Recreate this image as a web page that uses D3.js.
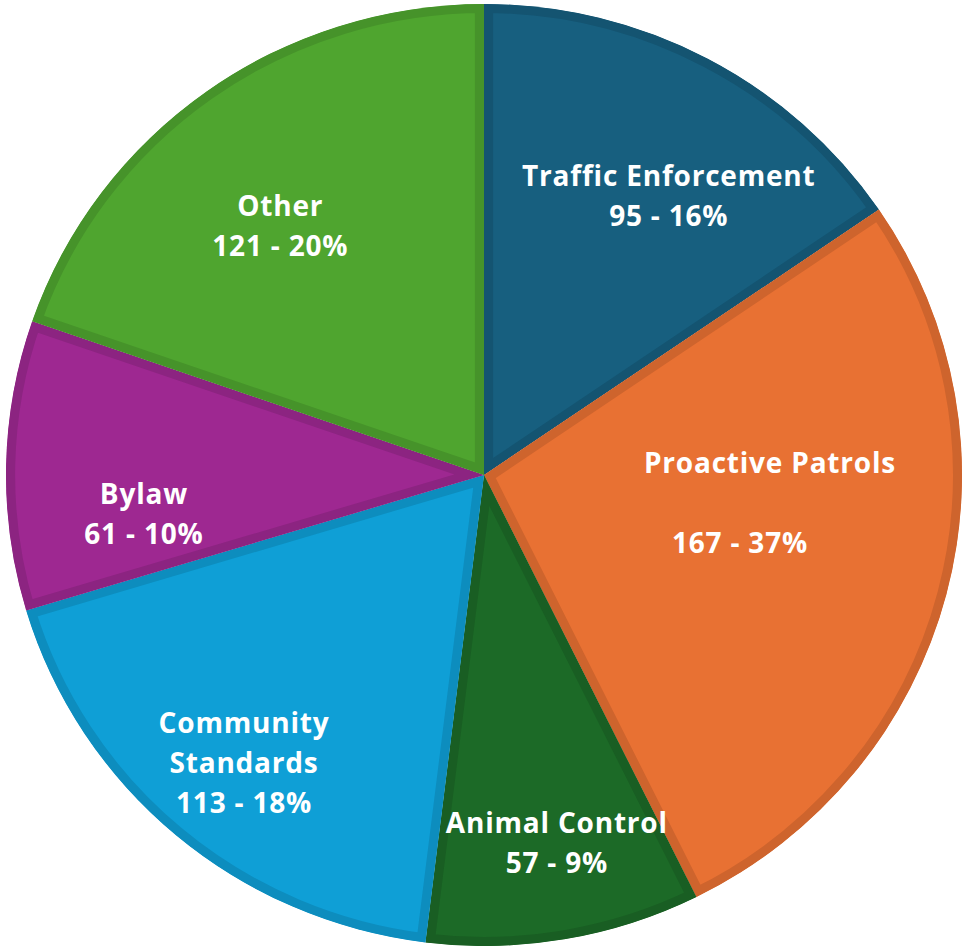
<!DOCTYPE html>
<html>
<head>
<meta charset="utf-8">
<script src="https://cdn.jsdelivr.net/npm/d3@7"></script>
<style>
  html, body { margin: 0; padding: 0; background: #ffffff; }
  svg { display: block; }
  .slice-label { font-family: "Open Sans", "Liberation Sans", Arial, sans-serif; font-weight: 700; fill: #ffffff; letter-spacing: 0.8px; }
</style>
</head>
<body>
<svg id="chart" width="963" height="948"></svg>
<script>
// Categories and counts, clockwise from twelve o'clock
const categories = ["Traffic Enforcement", "Proactive Patrols", "Animal Control", "Community Standards", "Bylaw", "Other"];
const counts = [95, 167, 57, 113, 61, 121];
// Percent text as printed on each slice
const percentLabels = ["16%", "37%", "9%", "18%", "10%", "20%"];
// Label text broken into lines ("" leaves a blank line)
const labelLines = [
  ["Traffic Enforcement"],
  ["Proactive Patrols", ""],
  ["Animal Control"],
  ["Community", "Standards"],
  ["Bylaw"],
  ["Other"]
];
const sliceColors = ["#175f7f", "#e87133", "#1c6a27", "#0f9fd6", "#9e2891", "#4fa52f"];

// Layout
const width = 963, height = 948;
const cx = 484, cy = 475;
const ry = 471, rx = 478;          // pie is drawn slightly wider than tall
const borderInset = 9;             // darker band inside each slice edge
const fontSize = 28, lineGap = 40;
// hand-placed label offsets from the arc centroid (px)
const labelNudge = [[24, 21], [-62, -58], [15, 34], [-18, 29], [4, 46], [-4, 27]];
// per-line horizontal shifts inside a label block
const lineShift = [[0, 0], [15, 0, -15], [0, 0], [0, 0, 0], [0, 0], [0, 0]];

const data = categories.map((name, i) => ({
  name, value: counts[i], pct: percentLabels[i], lines: labelLines[i].concat([counts[i] + " - " + percentLabels[i]]),
  color: sliceColors[i], index: i
}));

const svg = d3.select("#chart");
const color = d3.scaleOrdinal().domain(categories).range(sliceColors);

const pie = d3.pie().value(d => d.value).sort(null);
const arcs = pie(data);
const arc = d3.arc().innerRadius(0).outerRadius(ry);
const labelArc = d3.arc().innerRadius(ry * 0.72).outerRadius(ry * 0.72);

const defs = svg.append("defs");
defs.selectAll("clipPath")
  .data(arcs)
  .join("clipPath")
  .attr("id", d => "slice-clip-" + d.index)
  .append("path")
  .attr("d", arc);

const pieG = svg.append("g")
  .attr("transform", `translate(${cx},${cy}) scale(${rx / ry},1)`);

pieG.selectAll("path.slice")
  .data(arcs)
  .join("path")
  .attr("class", "slice")
  .attr("d", arc)
  .attr("fill", d => color(d.data.name))
  .attr("stroke", d => d3.color(color(d.data.name)).darker(0.33))
  .attr("stroke-width", borderInset * 2)
  .attr("stroke-linejoin", "miter")
  .attr("clip-path", d => `url(#slice-clip-${d.index})`);

const labels = svg.append("g")
  .selectAll("text")
  .data(arcs)
  .join("text")
  .attr("class", "slice-label")
  .attr("font-size", fontSize)
  .attr("text-anchor", "middle")
  .attr("transform", d => {
    const [lx, ly] = labelArc.centroid(d);
    const [nx, ny] = labelNudge[d.index];
    return `translate(${cx + lx * rx / ry + nx},${cy + ly + ny})`;
  });

labels.each(function(d) {
  const lines = d.data.lines;
  const n = lines.length;
  d3.select(this).selectAll("tspan")
    .data(lines)
    .join("tspan")
    .attr("x", (t, j) => lineShift[d.index][j] || 0)
    .attr("y", (t, j) => (j - (n - 1) / 2) * lineGap + fontSize * 0.35)
    .text(t => t);
});
</script>
</body>
</html>
